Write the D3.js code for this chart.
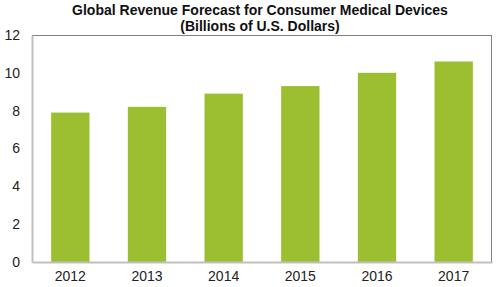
<!DOCTYPE html>
<html>
<head>
<meta charset="utf-8">
<script src="https://cdn.jsdelivr.net/npm/d3@7"></script>
<style>
	body { margin: 0; background: #fff; }
	text { font-family: "Liberation Sans", Arial, sans-serif; }
</style>
</head>
<body>
<svg id="chart"></svg>
<script>
var years = ['2012', '2013', '2014', '2015', '2016', '2017'];
var revenue = [7.9, 8.2, 8.9, 9.3, 10.0, 10.6];
var yTicks = [0, 2, 4, 6, 8, 10, 12];
var titleLines = ['Global Revenue Forecast for Consumer Medical Devices', '(Billions of U.S. Dollars)'];

var w = 500,
	h = 287,
	plotLeft = 32, plotRight = 492, plotTop = 35, plotBottom = 262;

var svg = d3.select('#chart')
			.attr('width', w)
			.attr('height', h);

var x = d3.scaleBand()
		  .domain(years)
		  .range([plotLeft, plotRight])
		  .paddingInner(0.5)
		  .paddingOuter(0.25);

var y = d3.scaleLinear()
		  .domain([0, 12])
		  .range([plotBottom, plotTop]);

// title
svg.selectAll('text.title')
   .data(titleLines)
   .enter()
   .append('text')
   .attr('class', 'title')
   .attr('x', 260)
   .attr('y', function(d, i) { return 15 + i * 16; })
   .attr('text-anchor', 'middle')
   .attr('font-size', '14px')
   .attr('font-weight', 'bold')
   .attr('fill', '#111')
   .text(function(d) { return d; });

// bars
svg.selectAll('rect.bar')
   .data(revenue)
   .enter()
   .append('rect')
   .attr('class', 'bar')
   .attr('x', function(d, i) { return x(years[i]); })
   .attr('y', function(d) { return y(d); })
   .attr('width', x.bandwidth())
   .attr('height', function(d) { return plotBottom - y(d); })
   .attr('fill', '#9bbf30');

// frame
svg.append('line').attr('x1', plotLeft).attr('x2', plotRight).attr('y1', plotTop + 0.5).attr('y2', plotTop + 0.5)
   .attr('stroke', '#808080');
svg.append('line').attr('x1', plotRight - 0.5).attr('x2', plotRight - 0.5).attr('y1', plotTop).attr('y2', plotBottom)
   .attr('stroke', '#808080');

var yAxis = svg.append('g')
			   .attr('transform', 'translate(' + plotLeft + ',0)')
			   .call(d3.axisLeft(y).tickValues(yTicks).tickSize(0).tickPadding(12));

var xAxis = svg.append('g')
			   .attr('transform', 'translate(0,' + plotBottom + ')')
			   .call(d3.axisBottom(x).tickSize(0).tickPadding(9));

svg.selectAll('.domain').attr('stroke', '#c0c0c0').attr('stroke-width', 2);
svg.selectAll('.tick text')
   .attr('font-family', '"Liberation Sans", Arial, sans-serif')
   .attr('font-size', '14px')
   .attr('fill', '#222');
</script>
</body>
</html>
